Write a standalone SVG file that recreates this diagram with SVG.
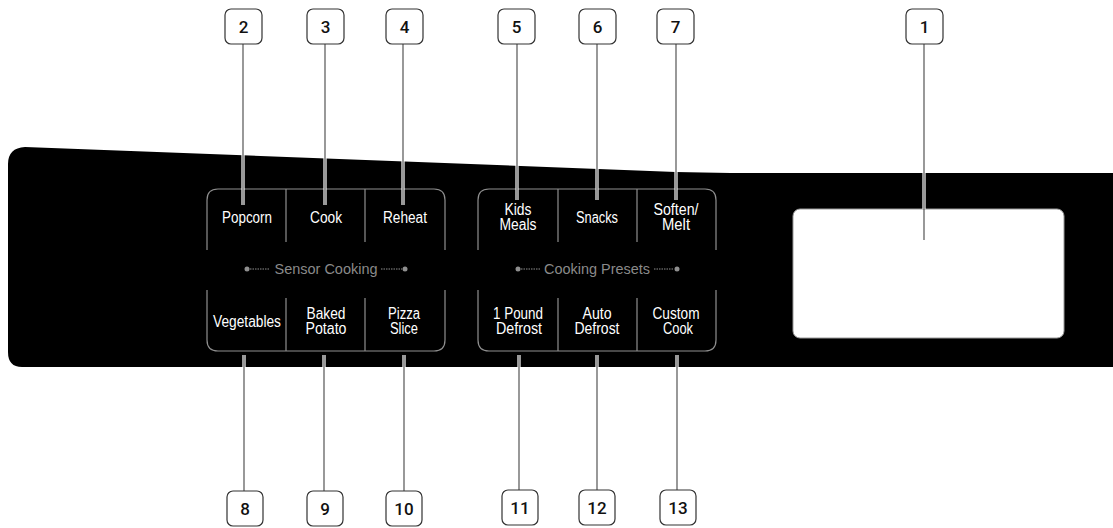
<svg xmlns="http://www.w3.org/2000/svg" width="1113" height="528" viewBox="0 0 1113 528">
<style>
.btn{font-family:"Liberation Sans",Arial,sans-serif;font-size:16px;fill:#fff;text-anchor:middle}
.grp{font-family:"Liberation Sans",Arial,sans-serif;font-size:14px;fill:#8a8a8a;text-anchor:middle}
.outl{fill:none;stroke:#8f8f8f;stroke-width:1.2}
.dot{fill:#8f8f8f}
.dl{stroke:#8f8f8f;stroke-width:1;stroke-dasharray:1.5 1}
.box{fill:#fff;stroke:#333;stroke-width:1.2}
.num{font-family:Roboto,"Liberation Sans",Arial,sans-serif;font-weight:500;font-size:17px;fill:#111;text-anchor:middle}
.halo{stroke:#fff;stroke-width:3.2;fill:none}
.lead{stroke:#444;stroke-width:1.1;fill:none}
</style>
<rect width="1113" height="528" fill="#fff"/>
<g id="panel">
<path d="M8,164 Q8,148 25,147 L650,171 Q700,173 760,173 L1113,173 L1113,367 L22,367 Q8,367 8,352 Z" fill="#000"/>
</g>
<g id="sensor-cooking">
<path class="outl" d="M207,250 V200 Q207,189 218,189 H434 Q445,189 445,200 V250"/>
<path class="outl" d="M207,290 V340 Q207,351 218,351 H434 Q445,351 445,340 V290"/>
<line class="outl" x1="286" y1="189" x2="286" y2="242"/>
<line class="outl" x1="365" y1="189" x2="365" y2="242"/>
<line class="outl" x1="286" y1="298" x2="286" y2="351"/>
<line class="outl" x1="365" y1="298" x2="365" y2="351"/>
<circle class="dot" cx="247" cy="269" r="2.5"/>
<circle class="dot" cx="405" cy="269" r="2.5"/>
<line class="dl" x1="250" y1="269" x2="270" y2="269"/>
<line class="dl" x1="381" y1="269" x2="402" y2="269"/>
<text class="grp" x="326" y="274" textLength="103" lengthAdjust="spacingAndGlyphs">Sensor Cooking</text>
</g>
<g id="btn-popcorn"><text class="btn" x="247" y="223" textLength="50" lengthAdjust="spacingAndGlyphs">Popcorn</text></g>
<g id="btn-cook"><text class="btn" x="326" y="223" textLength="32" lengthAdjust="spacingAndGlyphs">Cook</text></g>
<g id="btn-reheat"><text class="btn" x="405" y="223" textLength="44" lengthAdjust="spacingAndGlyphs">Reheat</text></g>
<g id="btn-vegetables"><text class="btn" x="247" y="327" textLength="68" lengthAdjust="spacingAndGlyphs">Vegetables</text></g>
<g id="btn-baked-potato"><text class="btn" x="326" y="319" textLength="39" lengthAdjust="spacingAndGlyphs">Baked</text><text class="btn" x="326" y="334" textLength="41" lengthAdjust="spacingAndGlyphs">Potato</text></g>
<g id="btn-pizza-slice"><text class="btn" x="404" y="319" textLength="32" lengthAdjust="spacingAndGlyphs">Pizza</text><text class="btn" x="404" y="334" textLength="28" lengthAdjust="spacingAndGlyphs">Slice</text></g>
<g id="cooking-presets">
<path class="outl" d="M478,250 V200 Q478,189 489,189 H705 Q716,189 716,200 V250"/>
<path class="outl" d="M478,290 V340 Q478,351 489,351 H705 Q716,351 716,340 V290"/>
<line class="outl" x1="558" y1="189" x2="558" y2="242"/>
<line class="outl" x1="637" y1="189" x2="637" y2="242"/>
<line class="outl" x1="558" y1="298" x2="558" y2="351"/>
<line class="outl" x1="637" y1="298" x2="637" y2="351"/>
<circle class="dot" cx="518" cy="269" r="2.5"/>
<circle class="dot" cx="677" cy="269" r="2.5"/>
<line class="dl" x1="521" y1="269" x2="540" y2="269"/>
<line class="dl" x1="654" y1="269" x2="674" y2="269"/>
<text class="grp" x="597" y="274" textLength="106" lengthAdjust="spacingAndGlyphs">Cooking Presets</text>
</g>
<g id="btn-kids-meals"><text class="btn" x="518" y="215" textLength="27" lengthAdjust="spacingAndGlyphs">Kids</text><text class="btn" x="518" y="230" textLength="37" lengthAdjust="spacingAndGlyphs">Meals</text></g>
<g id="btn-snacks"><text class="btn" x="597" y="223" textLength="42" lengthAdjust="spacingAndGlyphs">Snacks</text></g>
<g id="btn-soften-melt"><text class="btn" x="676" y="215" textLength="45" lengthAdjust="spacingAndGlyphs">Soften/</text><text class="btn" x="676" y="230" textLength="28" lengthAdjust="spacingAndGlyphs">Melt</text></g>
<g id="btn-1-pound-defrost"><text class="btn" x="518" y="319" textLength="50" lengthAdjust="spacingAndGlyphs">1 Pound</text><text class="btn" x="519" y="334" textLength="46" lengthAdjust="spacingAndGlyphs">Defrost</text></g>
<g id="btn-auto-defrost"><text class="btn" x="597" y="319" textLength="29" lengthAdjust="spacingAndGlyphs">Auto</text><text class="btn" x="597" y="334" textLength="45" lengthAdjust="spacingAndGlyphs">Defrost</text></g>
<g id="btn-custom-cook"><text class="btn" x="676" y="319" textLength="47" lengthAdjust="spacingAndGlyphs">Custom</text><text class="btn" x="678" y="334" textLength="30" lengthAdjust="spacingAndGlyphs">Cook</text></g>
<g id="display"><rect x="793" y="209" width="271" height="129" rx="7" fill="#fff" stroke="#999" stroke-width="1"/></g>
<g id="connectors">
<g class="halo">
<line x1="243" y1="44" x2="243" y2="205"/><line x1="325" y1="44" x2="325" y2="205"/><line x1="403" y1="44" x2="403" y2="205"/>
<line x1="517" y1="44" x2="517" y2="200"/><line x1="597" y1="44" x2="597" y2="200"/><line x1="676" y1="44" x2="676" y2="200"/>
<line x1="924" y1="44" x2="924" y2="209"/>
<line x1="244" y1="355" x2="244" y2="491"/><line x1="324" y1="355" x2="324" y2="491"/><line x1="404" y1="355" x2="404" y2="491"/>
<line x1="519" y1="355" x2="519" y2="491"/><line x1="597" y1="355" x2="597" y2="491"/><line x1="677" y1="355" x2="677" y2="491"/>
</g>
<g class="lead">
<line x1="243" y1="44" x2="243" y2="205"/><line x1="325" y1="44" x2="325" y2="205"/><line x1="403" y1="44" x2="403" y2="205"/>
<line x1="517" y1="44" x2="517" y2="200"/><line x1="597" y1="44" x2="597" y2="200"/><line x1="676" y1="44" x2="676" y2="200"/>
<line x1="924" y1="44" x2="924" y2="240"/>
<line x1="244" y1="355" x2="244" y2="491"/><line x1="324" y1="355" x2="324" y2="491"/><line x1="404" y1="355" x2="404" y2="491"/>
<line x1="519" y1="355" x2="519" y2="491"/><line x1="597" y1="355" x2="597" y2="491"/><line x1="677" y1="355" x2="677" y2="491"/>
</g>
</g>
<g id="callout-1"><rect class="box" x="906" y="9" width="37" height="35" rx="6"/><text class="num" x="924.5" y="32.5">1</text></g>
<g id="callout-2"><rect class="box" x="225" y="9" width="37" height="35" rx="6"/><text class="num" x="243.5" y="32.5">2</text></g>
<g id="callout-3"><rect class="box" x="307" y="9" width="37" height="35" rx="6"/><text class="num" x="325.5" y="32.5">3</text></g>
<g id="callout-4"><rect class="box" x="386" y="9" width="37" height="35" rx="6"/><text class="num" x="404.5" y="32.5">4</text></g>
<g id="callout-5"><rect class="box" x="498" y="9" width="37" height="35" rx="6"/><text class="num" x="516.5" y="32.5">5</text></g>
<g id="callout-6"><rect class="box" x="579" y="9" width="37" height="35" rx="6"/><text class="num" x="597.5" y="32.5">6</text></g>
<g id="callout-7"><rect class="box" x="657" y="9" width="37" height="35" rx="6"/><text class="num" x="675.5" y="32.5">7</text></g>
<g id="callout-8"><rect class="box" x="227" y="491" width="36" height="35" rx="6"/><text class="num" x="245" y="514.5">8</text></g>
<g id="callout-9"><rect class="box" x="307" y="491" width="36" height="35" rx="6"/><text class="num" x="325" y="514.5">9</text></g>
<g id="callout-10"><rect class="box" x="386" y="491" width="36" height="35" rx="6"/><text class="num" x="404" y="514.5">10</text></g>
<g id="callout-11"><rect class="box" x="502" y="490" width="36" height="35" rx="6"/><text class="num" x="520" y="513.5">11</text></g>
<g id="callout-12"><rect class="box" x="579" y="490" width="36" height="35" rx="6"/><text class="num" x="597" y="513.5">12</text></g>
<g id="callout-13"><rect class="box" x="660" y="490" width="36" height="35" rx="6"/><text class="num" x="678" y="513.5">13</text></g>
</svg>
